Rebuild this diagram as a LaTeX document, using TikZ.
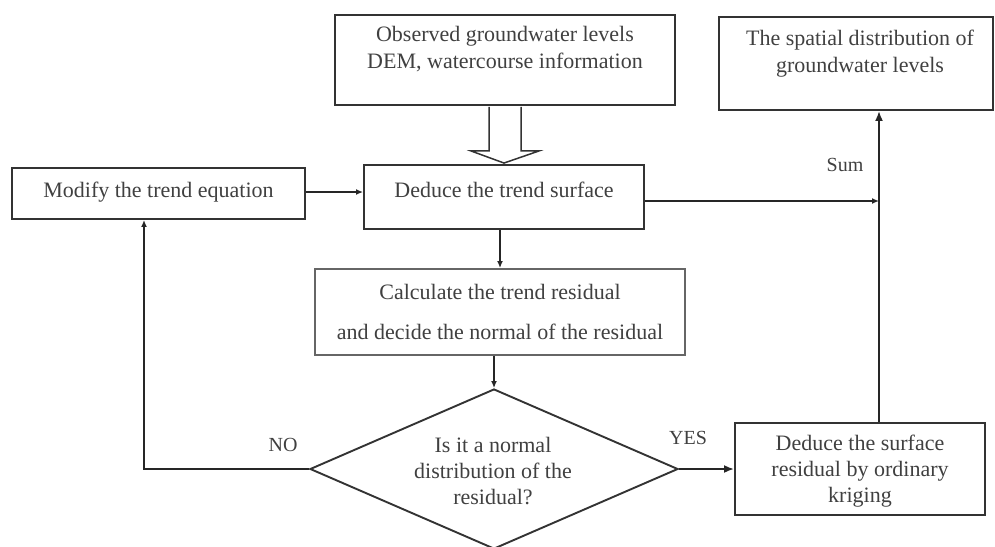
\documentclass[tikz,border=0pt]{standalone}
\usepackage{fontspec}
\setmainfont{Liberation Serif}
\usetikzlibrary{shapes.geometric,arrows.meta,calc}
\begin{document}
\begin{tikzpicture}[x=1pt,y=-1pt,
  line width=1.9pt,
  boxnode/.style={draw=black!80,rectangle,inner sep=0pt},
  txt/.style={text=black!75,align=center,inner sep=0pt,font=\fontsize{22}{27}\selectfont},
  lbl/.style={text=black!75,inner sep=0pt,font=\fontsize{20}{24}\selectfont},
  conn/.style={draw=black!85,-{Latex[length=7pt,width=6pt]}},
  bigconn/.style={draw=black!85,-{Latex[length=10pt,width=8pt]}}]
\useasboundingbox (0,0) rectangle (995,546);
% boxes
\node[boxnode,minimum width=340,minimum height=90] (obs) at (505,60) {};
\node[txt] (obst) at (505,49.5) {Observed groundwater levels\\DEM, watercourse information};
\node[boxnode,minimum width=280,minimum height=64] (ded) at (504,197) {};
\node[txt] (dedt) at (504,190) {Deduce the trend surface};
\node[boxnode,minimum width=293,minimum height=51] (mod) at (158.5,193.5) {};
\node[txt] (modt) at (158.5,192) {Modify the trend equation};
\node[boxnode,minimum width=274,minimum height=93] (spat) at (856,63.5) {};
\node[txt] (spatt) at (860,53.5) {The spatial distribution of\\groundwater levels};
\node[boxnode,draw=black!60,minimum width=370,minimum height=86] (calc) at (500,312) {};
\node[txt] (calct) at (500,312) {Calculate the trend residual\\[13pt] and decide the normal of the residual};
\node[boxnode,minimum width=250,minimum height=92] (krig) at (860,469) {};
\node[txt,font=\fontsize{22}{26}\selectfont] (krigt) at (860,471) {Deduce the surface\\residual by ordinary\\kriging};
\node[diamond,draw=black!80,aspect=2.3,inner sep=0pt,minimum width=368,minimum height=160] (dia) at (494,469) {};
\node[txt,font=\fontsize{22}{26}\selectfont] (diat) at (493,471) {Is it a normal\\distribution of the\\residual?};
% labels
\node[lbl] (yes) at (688,438) {YES};
\node[lbl] (no) at (283,445) {NO};
\node[lbl] (sum) at (845,165) {Sum};
% block arrow
\draw[draw=black!80,fill=white,line width=1.5pt,line join=miter]
  ($(obs.south)+(-16,1)$) -- ($(obs.south)+(-16,45)$) -- ($(obs.south)+(-34,45)$)
  -- ($(ded.north)+(0,-1)$) -- ($(obs.south)+(34,45)$) -- ($(obs.south)+(16,45)$)
  -- ($(obs.south)+(16,1)$);
% connectors
\coordinate (sumpt) at (879,201);
\coordinate (nocorner) at (144,469);
\draw[conn] (mod.east |- modt) -- (ded.west |- modt);
\draw[conn] (ded.east |- sumpt) -- (sumpt);
\draw[bigconn] (krig.north -| sumpt) -- (spat.south -| sumpt);
\draw[conn] (calc.north |- ded.south) -- (calc.north);
\draw[conn] (dia.north |- calc.south) -- (dia.north);
\draw[bigconn] (dia.east) -- (krig.west);
\draw[conn] (dia.west) -- (nocorner) -- (nocorner |- mod.south);
\end{tikzpicture}
\end{document}
